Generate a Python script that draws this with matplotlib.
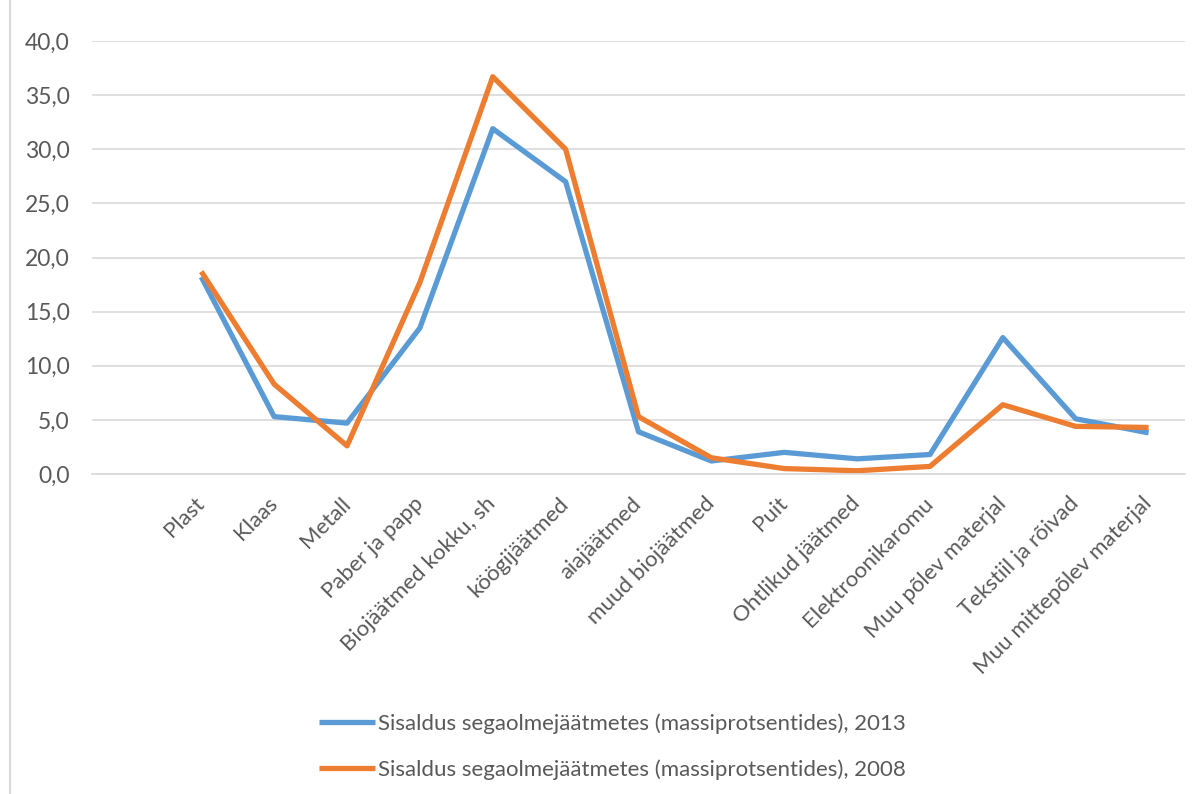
import matplotlib.pyplot as plt
from matplotlib.lines import Line2D
from matplotlib.ticker import FuncFormatter
from matplotlib.transforms import ScaledTranslation
import numpy as np

plt.rcParams['font.family'] = ['Lato', 'DejaVu Sans']

categories = ['Plast', 'Klaas', 'Metall', 'Paber ja papp', 'Biojäätmed kokku, sh',
              'köögijäätmed', 'aiajäätmed', 'muud biojäätmed', 'Puit',
              'Ohtlikud jäätmed', 'Elektroonikaromu', 'Muu põlev materjal',
              'Tekstiil ja rõivad', 'Muu mittepõlev materjal']
share_2013 = [18.2, 5.3, 4.7, 13.5, 31.9, 27.0, 3.9, 1.2, 2.0, 1.4, 1.8, 12.6, 5.1, 3.8]
share_2008 = [18.7, 8.3, 2.6, 17.7, 36.7, 30.0, 5.3, 1.5, 0.5, 0.3, 0.7, 6.4, 4.4, 4.3]
series_names = ['Sisaldus segaolmejäätmetes (massiprotsentides), 2013',
                'Sisaldus segaolmejäätmetes (massiprotsentides), 2008']
colors = ['#5b9bd5', '#ed7d31']
text_color = '#595959'

fig = plt.figure(figsize=(12, 7.94), dpi=100)
ax = fig.add_axes([92 / 1200, 1 - 474 / 794, (1185 - 92) / 1200, (474 - 41) / 794])

# the source sheet had an empty first category, so the data starts at slot 1
x = np.arange(1, len(categories) + 1)
for vals, c, name in zip([share_2013, share_2008], colors, series_names):
    ax.plot(x, vals, color=c, lw=3.8, solid_joinstyle='round',
            solid_capstyle='butt', label=name)

ax.set_xlim(-0.5, len(categories) + 0.5)
ax.set_ylim(0, 40)
ax.set_yticks(np.arange(0, 41, 5))
ax.yaxis.set_major_formatter(FuncFormatter(lambda v, p: f'{v:.1f}'.replace('.', ',')))
ax.grid(axis='y', color='#d9d9d9', lw=1.2)
ax.set_axisbelow(True)
for s in ['top', 'right', 'left']:
    ax.spines[s].set_visible(False)
ax.spines['bottom'].set_color('#d9d9d9')
ax.spines['bottom'].set_linewidth(1.2)
ax.tick_params(axis='both', length=0, colors=text_color)
ax.tick_params(axis='y', pad=16, labelsize=16.5)

ax.set_xticks(x)
ax.set_xticklabels(categories, rotation=45, ha='right', va='top',
                   rotation_mode='anchor')
ax.tick_params(axis='x', pad=14, labelsize=16)
shift = ScaledTranslation(-7 / 100, 0, fig.dpi_scale_trans)
for lab in ax.get_xticklabels():
    lab.set_transform(lab.get_transform() + shift)

handles, labels = ax.get_legend_handles_labels()
leg = fig.legend(handles, labels, loc='upper left',
                 bbox_to_anchor=(299 / 1200, 1 - 693 / 794), frameon=False,
                 fontsize=16, handlelength=2.5, handletextpad=0.15,
                 labelspacing=1.15)
for t in leg.get_texts():
    t.set_color(text_color)

# chart frame edge on the left
fig.add_artist(Line2D([10 / 1200, 10 / 1200], [0, 1], transform=fig.transFigure,
                      color='#d9d9d9', lw=1.5))

fig.savefig('out.png', dpi=100)
